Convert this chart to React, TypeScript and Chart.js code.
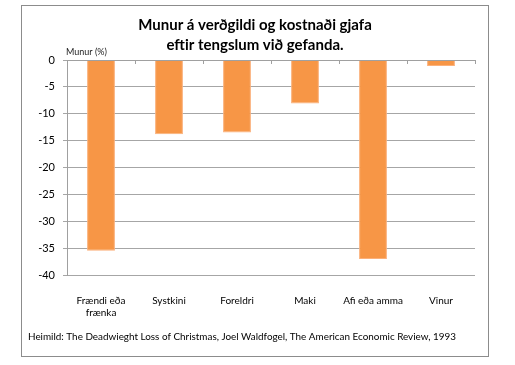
import React, { useEffect, useRef } from "react";
import { Chart, registerables } from "chart.js";

Chart.register(...registerables);

const categories: (string | string[])[] = [["Frændi eða", "frænka"], "Systkini", "Foreldri", "Maki", "Afi eða amma", "Vinur"];
const values: number[] = [-35.5, -13.8, -13.5, -8.1, -37.0, -1.1];
const titleLines: string[] = ["Munur á verðgildi og kostnaði gjafa", "eftir tengslum við gefanda."];
const yAxisTitle = "Munur (%)";
const sourceText = "Heimild: The Deadwieght Loss of Christmas, Joel Waldfogel, The American Economic Review, 1993";

const FONT = "Lato, 'Open Sans', sans-serif";

const decorPlugin = {
  id: "decor",
  afterDraw(chart: any) {
    const ctx = chart.ctx as CanvasRenderingContext2D;
    const xs = chart.scales.x;
    const ys = chart.scales.y;
    const area = chart.chartArea;
    ctx.save();
    // outer border
    ctx.strokeStyle = "#8c8c8c";
    ctx.lineWidth = 1;
    ctx.strokeRect(21.5, 5.5, 467, 351);
    // zero line ticks
    const y0 = ys.getPixelForValue(0);
    ctx.strokeStyle = "#a0a0a0";
    ctx.beginPath();
    ctx.moveTo(area.left, Math.round(y0) + 0.5);
    ctx.lineTo(area.right, Math.round(y0) + 0.5);
    for (let i = 0; i <= categories.length; i++) {
      const x = Math.round(xs.getPixelForValue(i - 0.5)) + 0.5;
      ctx.moveTo(x, y0);
      ctx.lineTo(x, y0 + 4);
    }
    ctx.stroke();
    // title
    ctx.fillStyle = "#000";
    ctx.textAlign = "center";
    ctx.textBaseline = "middle";
    ctx.font = `bold 15px ${FONT}`;
    ctx.fillText(titleLines[0], 255, 25);
    ctx.fillText(titleLines[1], 255, 45);
    // axis title
    ctx.font = `9px ${FONT}`;
    ctx.textAlign = "left";
    ctx.fillStyle = "#222";
    ctx.fillText(yAxisTitle, 66, 52);
    // source
    ctx.font = `10px ${FONT}`;
    ctx.fillStyle = "#000";
    ctx.fillText(sourceText, 28, 337, 428);
    ctx.restore();
  },
};

export default function App() {
  const ref = useRef<HTMLCanvasElement | null>(null);
  useEffect(() => {
    if (!ref.current) return;
    const chart = new Chart(ref.current, {
      type: "bar",
      data: {
        labels: categories as any,
        datasets: [
          {
            data: values,
            backgroundColor: "#F79646",
            borderColor: "#FBB07A",
            borderWidth: 1,
            categoryPercentage: 0.82,
            barPercentage: 0.5,
          },
        ],
      },
      options: {
        animation: false,
        responsive: false,
        maintainAspectRatio: false,
        layout: { padding: { left: 21, right: 40, top: 60, bottom: 40 } },
        plugins: { legend: { display: false }, title: { display: false }, tooltip: { enabled: false } },
        scales: {
          x: {
            grid: { display: false },
            border: { display: false },
            ticks: {
              color: "#000",
              font: { family: FONT, size: 10, lineHeight: 1.2 },
              padding: 12,
              maxRotation: 0,
              autoSkip: false,
            },
            afterFit(scale: any) {
              scale.height = 50;
            },
          },
          y: {
            min: -40,
            max: 0,
            ticks: {
              stepSize: 5,
              color: "#000",
              font: { family: FONT, size: 11 },
              padding: 8,
            },
            grid: { color: "#a6a6a6", tickLength: 4, drawTicks: true },
            border: { display: true, color: "#a0a0a0" },
            afterFit(scale: any) {
              scale.width = 46;
            },
          },
        },
      },
      plugins: [decorPlugin],
    });
    return () => chart.destroy();
  }, []);
  return (
    <div style={{ position: "fixed", left: 0, top: 0, width: 515, height: 365, background: "#fff" }}>
      <canvas ref={ref} width={515} height={365} style={{ display: "block" }} />
    </div>
  );
}
